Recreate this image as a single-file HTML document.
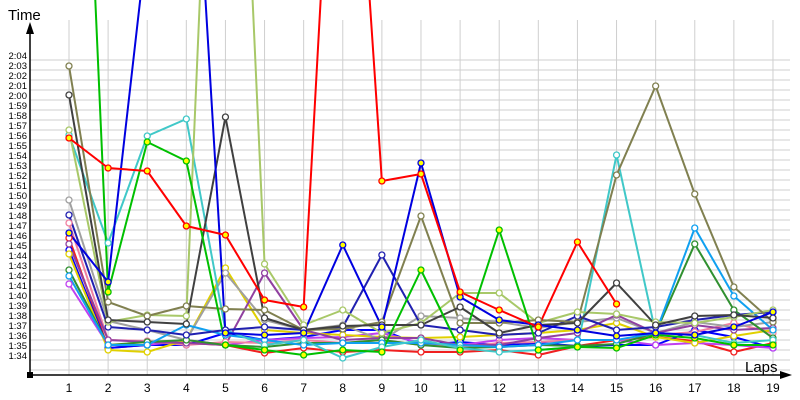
<!DOCTYPE html>
<html><head><meta charset="utf-8"><style>
html,body{margin:0;padding:0;background:#fff;}
svg{display:block;font-family:"Liberation Sans","DejaVu Sans",sans-serif;}
</style></head><body>
<svg id="c" width="800" height="400" xmlns="http://www.w3.org/2000/svg">
<defs><clipPath id="cl"><rect x="31" y="0" width="769" height="374"/></clipPath></defs>
<g id="grid"></g>
<g id="series" clip-path="url(#cl)"></g>
<line x1="30" y1="375" x2="30" y2="30" stroke="#000" stroke-width="1.5"/>
<polygon points="30,22 26,34 34,34" fill="#000"/>
<line x1="30" y1="375" x2="782" y2="375" stroke="#000" stroke-width="1.5"/>
<polygon points="792,375 780,371 780,379" fill="#000"/>
<rect x="27" y="372" width="6" height="6" fill="#000"/>
<text x="8" y="20" font-size="15" fill="#000">Time</text>
<text x="745" y="372" font-size="15" fill="#000">Laps</text>
<g id="labels"></g>
</svg>
<script>
var NS="http://www.w3.org/2000/svg";
function el(t,a,p,txt){var e=document.createElementNS(NS,t);for(var k in a)e.setAttribute(k,a[k]);if(txt!==undefined)e.textContent=txt;p.appendChild(e);return e;}
var grid=document.getElementById('grid'),lab=document.getElementById('labels'),ser=document.getElementById('series');
function X(i){return 69+i*39.11;}
for(var k=0;k<=31;k++){var y=60+k*10;el('line',{x1:30,y1:y,x2:790,y2:y,stroke:'#cfcfcf','stroke-width':1},grid);}
for(var i=0;i<19;i++){el('line',{x1:X(i),y1:20,x2:X(i),y2:375,stroke:'#cfcfcf','stroke-width':1},grid);
 el('text',{x:X(i),y:392,'font-size':12,'text-anchor':'middle'},lab,String(i+1));}
for(var k=0;k<=30;k++){var s=124-k;var m=Math.floor(s/60),sec=s%60;
 el('text',{x:27,y:60+k*10-1,'font-size':9.5,'text-anchor':'end',fill:'#000'},lab,m+':'+(sec<10?'0':'')+sec);}
var S=[
['#f02020','#fff',[238,348,345,343,345,353,348,352,350,352,352,350,355,346,340,337,341,352,343]],
['#0000ff','#fff',[250,348,345,345,333,340,337,330,330,345,342,345,343,346,345,345,330,337,348]],
['#c040f0','#fff',[284,345,345,340,345,340,338,337,333,343,345,340,338,340,340,345,343,345,348]],
['#f080a0','#fff',[223,340,341,345,342,343,340,343,340,345,347,343,342,340,340,335,332,323,333]],
['#e0d000','#fff',[254,350,352,340,268,330,333,335,337,338,337,335,333,330,323,337,343,336,330]],
['#a0a0a0','#fff',[200,321,330,340,273,320,330,325,340,316,318,322,328,322,318,333,322,327,322]],
['#9040a0','#fff',[244,340,342,343,345,273,330,340,338,338,345,345,338,333,315,333,325,330,328]],
['#309030','#fff',[270,345,342,340,345,347,343,343,340,345,348,347,345,346,344,333,244,310,338]],
['#10a0f0','#fff',[276,345,345,325,335,340,345,343,343,343,345,347,345,340,340,333,228,296,330]],
['#40c8c8','#fff',[135,243,136,119,330,345,340,358,347,340,348,352,350,347,155,333,335,343,340]],
['#2020b0','#fff',[215,327,330,335,330,327,330,327,255,325,330,335,333,316,330,327,320,315,312]],
['#a8c868','#fff',[130,322,315,316,-600,264,325,310,333,323,293,293,323,312,314,322,323,317,310]],
['#808050','#fff',[66,302,316,306,309,310,330,329,322,216,323,323,320,322,175,86,194,287,322]],
['#404040','#fff',[95,320,322,324,117,318,330,326,325,325,307,333,325,323,283,325,316,315,318]],
['#00c000','#ff0',[-600,292,142,161,345,350,355,350,352,270,350,230,350,347,348,335,338,345,345]],
['#0000e0','#ff0',[233,282,-62,-320,333,335,333,245,327,163,297,320,325,330,336,333,335,327,312]],
['#ff0000','#ff0',[138,168,171,226,235,300,307,-400,181,174,292,310,327,242,304]]
];
S.forEach(function(s){var pts=s[2].map(function(y,i){return X(i)+','+y;}).join(' ');
 el('polyline',{points:pts,fill:'none',stroke:s[0],'stroke-width':2,'stroke-linejoin':'round'},ser);});
S.forEach(function(s){s[2].forEach(function(y,i){if(y>0)el('circle',{cx:X(i),cy:y,r:3,fill:s[1],stroke:s[0],'stroke-width':1.3},ser);});});
</script>
</body></html>
